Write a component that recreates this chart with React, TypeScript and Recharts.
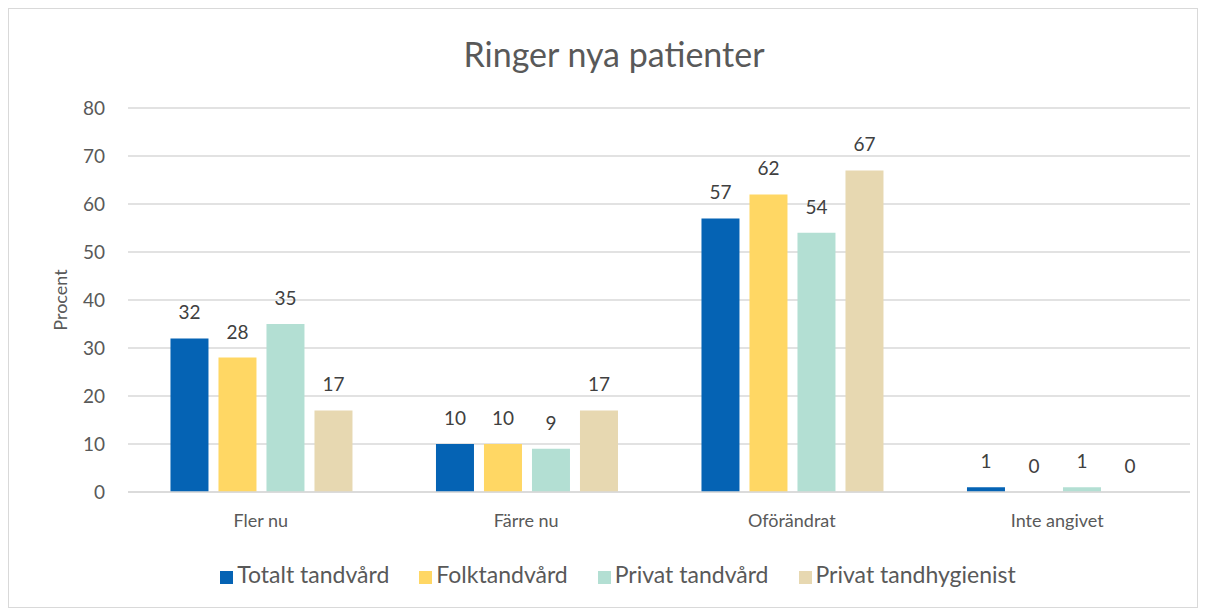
import React from 'react';
import { BarChart, Bar, XAxis, YAxis, CartesianGrid, Legend, LabelList } from 'recharts';

const categories = ['Fler nu', 'Färre nu', 'Oförändrat', 'Inte angivet'];
const totaltTandvard = [32, 10, 57, 1];
const folktandvard = [28, 10, 62, 0];
const privatTandvard = [35, 9, 54, 1];
const privatTandhygienist = [17, 17, 67, 0];
const yTicks = [0, 10, 20, 30, 40, 50, 60, 70, 80];

const SERIES = [
  { key: 'totalt', name: 'Totalt tandvård', color: '#0563b4', values: totaltTandvard },
  { key: 'folk', name: 'Folktandvård', color: '#ffd764', values: folktandvard },
  { key: 'privat', name: 'Privat tandvård', color: '#b3dfd3', values: privatTandvard },
  { key: 'hyg', name: 'Privat tandhygienist', color: '#e7d8b1', values: privatTandhygienist },
];

const data = categories.map((name, i) => {
  const row: Record<string, string | number> = { name };
  SERIES.forEach(s => { row[s.key] = s.values[i]; });
  return row;
});

const TEXT = '#595959';
const order = SERIES.map(s => s.name);

const App: React.FC = () => {
  return (
    <div
      style={{
        position: 'relative',
        width: 1190,
        height: 600,
        border: '1px solid #d9d9d9',
        boxSizing: 'border-box',
        fontFamily: 'Lato, "Open Sans", sans-serif',
        background: '#fff',
      }}
    >
      <div
        style={{
          position: 'absolute',
          top: 24,
          left: 22,
          width: 1166,
          textAlign: 'center',
          fontSize: 34,
          color: TEXT,
        }}
      >
        Ringer nya patienter
      </div>
      <BarChart
        width={1188}
        height={598}
        data={data}
        margin={{ top: 99, right: 7, bottom: 37, left: 0 }}
        barCategoryGap="16%"
        barGap={10}
      >
        <CartesianGrid vertical={false} stroke="#d9d9d9" strokeWidth={1.5} />
        <XAxis
          dataKey="name"
          height={50}
          axisLine={{ stroke: '#d9d9d9', strokeWidth: 1.5 }}
          tickLine={false}
          tickMargin={16}
          tick={{ fill: TEXT, fontSize: 18 }}
        />
        <YAxis
          width={119}
          domain={[0, 80]}
          ticks={yTicks}
          axisLine={false}
          tickLine={false}
          tickMargin={17}
          tick={{ fill: TEXT, fontSize: 19 }}
          label={{
            value: 'Procent',
            angle: -90,
            position: 'insideLeft',
            offset: 52,
            style: { textAnchor: 'middle', fill: TEXT, fontSize: 18 },
          }}
        />
        <Legend
          verticalAlign="bottom"
          iconType="square"
          iconSize={13}
          itemSorter={(item: any) => order.indexOf(item.value)}
          wrapperStyle={{ top: 551, left: 0, width: 1188, paddingLeft: 40, boxSizing: 'border-box', fontSize: 23 }}
          formatter={(value: string, entry: any, index: number) => (
            <span style={{ color: TEXT, marginRight: index === SERIES.length - 1 ? 0 : 20 }}>{value}</span>
          )}
        />
        {SERIES.map(s => (
          <Bar
            key={s.key}
            dataKey={s.key}
            name={s.name}
            fill={s.color}
            minPointSize={(v: number) => (v === 0 ? 0.001 : 0)}
            isAnimationActive={false}
          >
            <LabelList dataKey={s.key} position="top" offset={19} fill="#404040" fontSize={19} />
          </Bar>
        ))}
      </BarChart>
    </div>
  );
};

export default App;
